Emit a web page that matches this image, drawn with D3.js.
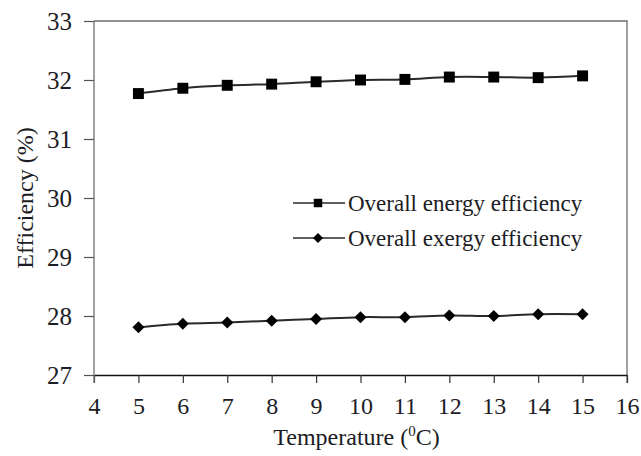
<!DOCTYPE html>
<html>
<head>
<meta charset="utf-8">
<script src="https://cdn.jsdelivr.net/npm/d3@7"></script>
<style>
  body { margin: 0; background: #fff; }
  svg text { font-family: "Liberation Serif", "Times New Roman", serif; fill: #1c1c24; }
</style>
</head>
<body>
<script>
// chart data
var temperatures = [5, 6, 7, 8, 9, 10, 11, 12, 13, 14, 15]
var energyEff = [31.77, 31.86, 31.91, 31.93, 31.97, 32.00, 32.01, 32.05, 32.05, 32.04, 32.07]
var exergyEff = [27.81, 27.87, 27.89, 27.92, 27.95, 27.98, 27.98, 28.01, 28.00, 28.03, 28.03]
var xTicks = [4, 5, 6, 7, 8, 9, 10, 11, 12, 13, 14, 15, 16]
var yTicks = [27, 28, 29, 30, 31, 32, 33]
var seriesNames = ['Overall energy efficiency', 'Overall exergy efficiency']

var serif = '"Liberation Serif", "Times New Roman", serif'

// canvas
var margin = {top: 21, right: 14, bottom: 81, left: 94},
  width = 641 - margin.left - margin.right,
  height = 456 - margin.top - margin.bottom

var svg = d3.select('body').append('svg')
  .attr('width', 641)
  .attr('height', 456)
  .attr('font-family', serif)
  .append('g')
  .attr('transform', 'translate(' + margin.left + ',' + margin.top + ')')

// scales
var xScale = d3.scaleLinear().domain([4, 16]).range([0, width])
var yScale = d3.scaleLinear().domain([27, 33]).range([height, 0])

// plot frame (top and right)
svg.append('path')
  .attr('d', 'M0,0H' + width + 'V' + (height + 8))
  .attr('fill', 'none')
  .attr('stroke', '#6e6e6e')
  .attr('stroke-width', 1.3)

// axes
var xAxis = d3.axisBottom(xScale).tickValues(xTicks).tickFormat(d3.format('d'))
  .tickSize(8).tickSizeOuter(0).tickPadding(14)
var yAxis = d3.axisLeft(yScale).tickValues(yTicks).tickFormat(d3.format('d'))
  .tickSize(10).tickSizeOuter(0).tickPadding(12)

var gx = svg.append('g')
  .attr('transform', 'translate(0,' + height + ')')
  .call(xAxis)
  .attr('font-family', serif)
gx.select('.domain').attr('stroke', '#111').attr('stroke-width', 1.3)
gx.selectAll('.tick line').attr('stroke', '#333').attr('stroke-width', 1.2)
gx.selectAll('.tick text')
  .attr('font-size', 24)
  .attr('dy', '0.71em')

var gy = svg.append('g').call(yAxis)
  .attr('font-family', serif)
gy.select('.domain').attr('stroke', '#6e6e6e').attr('stroke-width', 1.3)
  .attr('d', 'M0,0V' + (height + 8))
gy.selectAll('.tick line').attr('stroke', '#555').attr('stroke-width', 1.2)
gy.selectAll('.tick text')
  .attr('font-size', 25)

// lines
var lineGenerator = d3.line()
  .x(function(d, i) { return xScale(temperatures[i]) })
  .y(function(d) { return yScale(d) })
  .curve(d3.curveCatmullRom.alpha(0.5))

// square marker, and a square turned 45 degrees for the diamond
var markers = [
  {path: d3.symbol().type(d3.symbolSquare).size(120)(), rot: 0},
  {path: d3.symbol().type(d3.symbolSquare).size(72)(), rot: 45}
]
var legendMarkers = [
  {path: d3.symbol().type(d3.symbolSquare).size(72)(), rot: 0},
  {path: d3.symbol().type(d3.symbolSquare).size(50)(), rot: 45}
]

function drawSeries(values, mk) {
  svg.append('path')
    .datum(values)
    .attr('fill', 'none')
    .attr('stroke', '#2a2a2a')
    .attr('stroke-width', 2)
    .attr('d', lineGenerator)

  svg.selectAll(null)
    .data(values)
    .enter().append('path')
    .attr('d', mk.path)
    .attr('fill', '#000')
    .attr('transform', function(d, i) {
      return 'translate(' + xScale(temperatures[i]) + ',' + yScale(d) + ') rotate(' + mk.rot + ')'
    })
}

drawSeries(energyEff, markers[0])
drawSeries(exergyEff, markers[1])

// legend
var legend = svg.append('g').attr('transform', 'translate(' + (293 - margin.left) + ',' + (203 - margin.top) + ')')
seriesNames.forEach(function(name, i) {
  var row = legend.append('g').attr('transform', 'translate(0,' + (i * 35) + ')')
  row.append('line')
    .attr('x1', 0).attr('x2', 52)
    .attr('stroke', '#2a2a2a').attr('stroke-width', 1.6)
  row.append('path')
    .attr('d', legendMarkers[i].path)
    .attr('fill', '#000')
    .attr('transform', 'translate(25,0) rotate(' + legendMarkers[i].rot + ')')
  row.append('text')
    .attr('x', 55)
    .attr('dy', '0.35em')
    .attr('font-size', 23)
    .text(name)
})

// axis titles
var xTitle = svg.append('text')
  .attr('x', width / 2 - 4)
  .attr('y', height + 70)
  .attr('text-anchor', 'middle')
  .attr('font-size', 24)
xTitle.append('tspan').text('Temperature (')
xTitle.append('tspan').attr('font-size', 15).attr('dy', -9).text('0')
xTitle.append('tspan').attr('dy', 9).text('C)')

svg.append('text')
  .attr('transform', 'translate(' + (-61) + ',' + (height / 2) + ') rotate(-90)')
  .attr('text-anchor', 'middle')
  .attr('font-size', 24)
  .text('Efficiency (%)')
</script>
</body>
</html>
